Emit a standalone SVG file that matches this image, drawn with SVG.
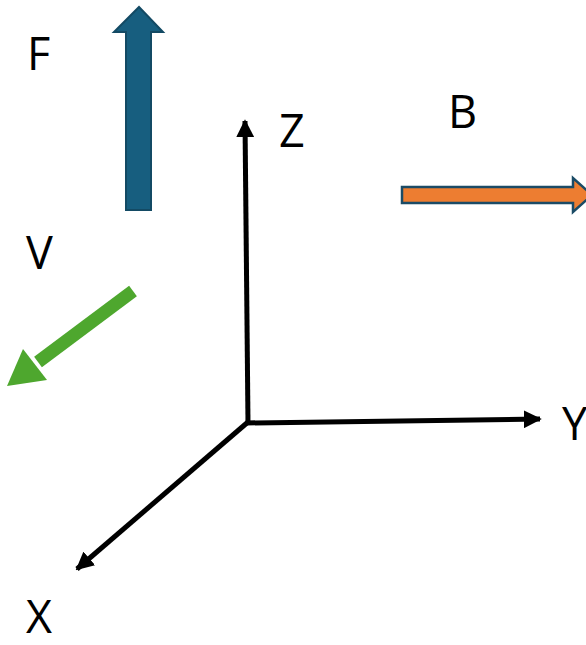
<svg xmlns="http://www.w3.org/2000/svg" width="586" height="645" viewBox="0 0 586 645">
  <style>
    .lbl { font-family: "Open Sans", "Liberation Sans", sans-serif; font-size: 45px; fill: #000; }
    .axis { stroke: #000; stroke-width: 5; fill: none; }
  </style>
  <defs>
    <marker id="ah" viewBox="0 0 10 10" refX="9" refY="5" markerWidth="3.6" markerHeight="3.6" orient="auto" markerUnits="strokeWidth">
      <path d="M0,0 L10,5 L0,10 Z" fill="#000"/>
    </marker>
  </defs>
  <rect width="586" height="645" fill="#fff"/>
  <g id="connectors">
    <line class="axis" x1="248" y1="423" x2="245" y2="121" marker-end="url(#ah)"/>
    <line class="axis" x1="246" y1="423" x2="540" y2="419" marker-end="url(#ah)"/>
    <line class="axis" x1="248" y1="422" x2="77" y2="569" marker-end="url(#ah)"/>
  </g>
  <g id="F">
    <polygon points="126,210 151,210 151,32 163,32 139,7 114,32 126,32" fill="#175e7f" stroke="#134a64" stroke-width="2"/>
    <text class="lbl" x="27" y="70">F</text>
  </g>
  <g id="B">
    <polygon points="402,187 573,187 573,178 592,195 573,212 573,203 402,203" fill="#ed7d31" stroke="#1b4b66" stroke-width="2.5"/>
    <text class="lbl" x="448" y="128">B</text>
  </g>
  <g id="V">
    <line x1="133" y1="291" x2="38" y2="362" stroke="#4ea72e" stroke-width="13"/>
    <polygon points="7,386 23,349 47,380" fill="#4ea72e"/>
    <text class="lbl" x="26" y="269">V</text>
  </g>
  <g id="Z">
    <text class="lbl" x="279" y="147">Z</text>
  </g>
  <g id="Y">
    <text class="lbl" x="562" y="440">Y</text>
  </g>
  <g id="X">
    <text class="lbl" x="26" y="633">X</text>
  </g>
</svg>
